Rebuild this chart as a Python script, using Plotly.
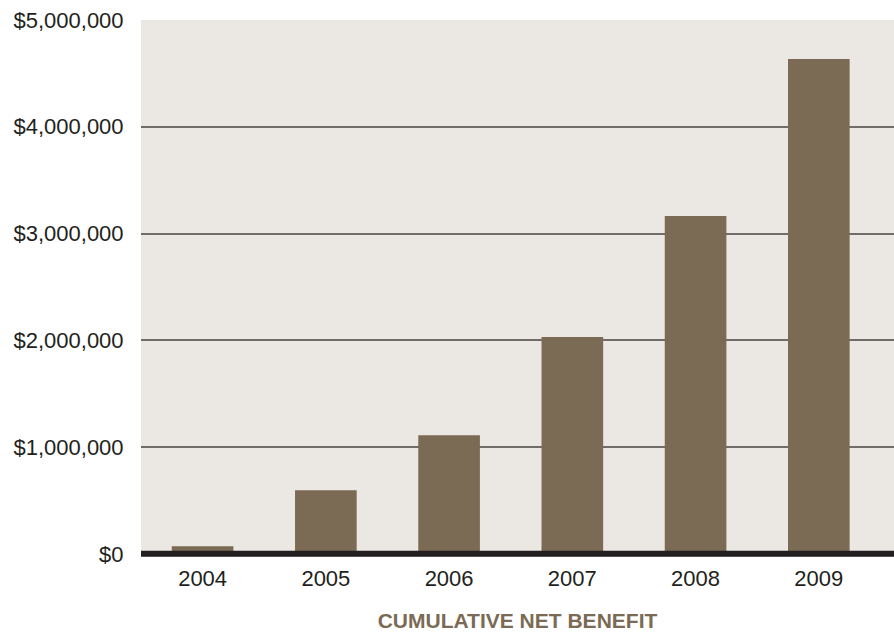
import plotly.graph_objects as go

years = ["2004", "2005", "2006", "2007", "2008", "2009"]
net_benefit = [70000, 595000, 1110000, 2030000, 3165000, 4634000]
y_ticks = [0, 1000000, 2000000, 3000000, 4000000, 5000000]
y_tick_labels = ["$0", "$1,000,000", "$2,000,000", "$3,000,000", "$4,000,000", "$5,000,000"]

bar_color = "#7b6a54"
bg_color = "#ebe7e2"
text_color = "#231f20"

fig = go.Figure(go.Bar(x=years, y=net_benefit, marker=dict(color=bar_color, line=dict(width=0)),
                       width=0.5))

fig.add_shape(type="line", xref="paper", x0=0, x1=1, yref="y", y0=0, y1=0,
              line=dict(color=text_color, width=6), layer="above")

fig.update_layout(
    width=894, height=633,
    margin=dict(l=141, r=0, t=20, b=76),
    paper_bgcolor="white", plot_bgcolor=bg_color,
    font=dict(family="Liberation Sans, Arial, sans-serif", size=22, color=text_color),
    showlegend=False,
    bargap=0.5,
)
fig.update_yaxes(range=[-30000, 5000000], tickvals=y_ticks, ticktext=y_tick_labels,
                 showgrid=True, gridcolor="#6f6c6a", gridwidth=2, zeroline=False,
                 ticks="outside", ticklen=12, tickcolor="rgba(0,0,0,0)", showline=False)
fig.update_xaxes(range=[-0.5, 5.61], showgrid=False, ticks="outside", ticklen=2,
                 tickcolor="rgba(0,0,0,0)",
                 title=dict(text="<b>CUMULATIVE NET BENEFIT</b>", font=dict(size=21, color=bar_color),
                            standoff=22),
                 showline=False)

fig.write_html("out.html")
